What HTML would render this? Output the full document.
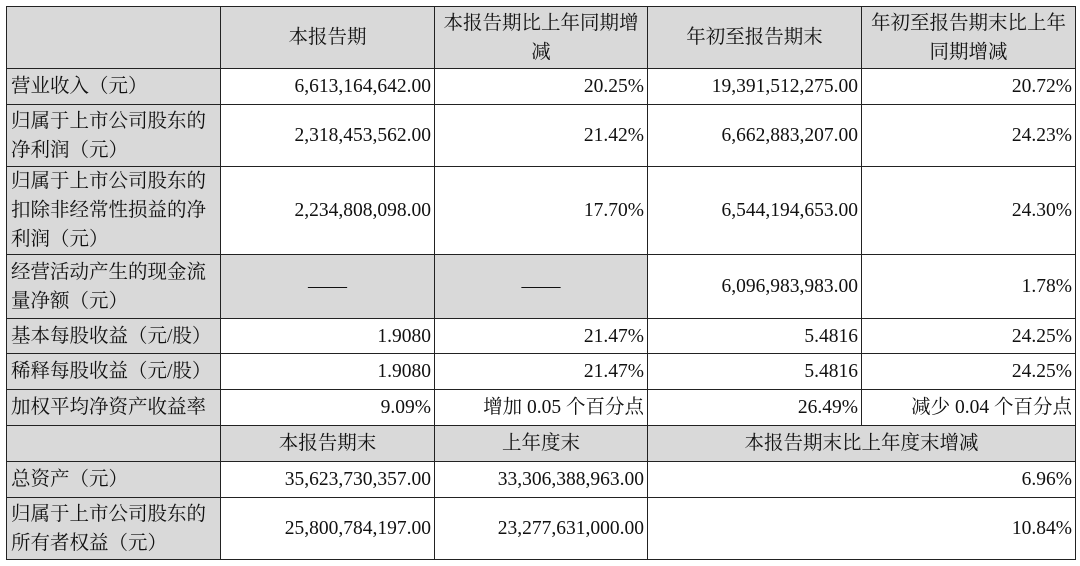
<!DOCTYPE html>
<html><head><meta charset="utf-8"><style>
body{margin:0;width:1080px;height:566px;background:#fff;position:relative;overflow:hidden;font-family:"Liberation Serif","Noto Serif CJK SC",serif;color:#111;}
.c{position:absolute;box-sizing:border-box;border:1px solid #222;display:flex;align-items:center;font-size:19.5px;line-height:29px;}
.g{background:#d9d9d9;}
.l{justify-content:flex-start;padding-left:4px;}
.r{justify-content:flex-end;padding-right:3px;text-align:right;}
.m{justify-content:center;text-align:center;}
.c1{left:6px;width:215px}.c2{left:220px;width:215px}.c3{left:434px;width:214px}.c4{left:647px;width:215px}.c5{left:861px;width:215px}
</style></head><body>
<!-- header -->
<div class="c g c1" style="top:6px;height:63px"></div>
<div class="c g m c2" style="top:6px;height:63px">本报告期</div>
<div class="c g m c3" style="top:6px;height:63px">本报告期比上年同期增<br>减</div>
<div class="c g m c4" style="top:6px;height:63px">年初至报告期末</div>
<div class="c g m c5" style="top:6px;height:63px">年初至报告期末比上年<br>同期增减</div>
<!-- r1 -->
<div class="c g l c1" style="top:68px;height:37px">营业收入（元）</div>
<div class="c r c2" style="top:68px;height:37px">6,613,164,642.00</div>
<div class="c r c3" style="top:68px;height:37px">20.25%</div>
<div class="c r c4" style="top:68px;height:37px">19,391,512,275.00</div>
<div class="c r c5" style="top:68px;height:37px">20.72%</div>
<!-- r2 -->
<div class="c g l c1" style="top:104px;height:63px">归属于上市公司股东的<br>净利润（元）</div>
<div class="c r c2" style="top:104px;height:63px">2,318,453,562.00</div>
<div class="c r c3" style="top:104px;height:63px">21.42%</div>
<div class="c r c4" style="top:104px;height:63px">6,662,883,207.00</div>
<div class="c r c5" style="top:104px;height:63px">24.23%</div>
<!-- r3 -->
<div class="c g l c1" style="top:166px;height:89px">归属于上市公司股东的<br>扣除非经常性损益的净<br>利润（元）</div>
<div class="c r c2" style="top:166px;height:89px">2,234,808,098.00</div>
<div class="c r c3" style="top:166px;height:89px">17.70%</div>
<div class="c r c4" style="top:166px;height:89px">6,544,194,653.00</div>
<div class="c r c5" style="top:166px;height:89px">24.30%</div>
<!-- r4 -->
<div class="c g l c1" style="top:254px;height:65px">经营活动产生的现金流<br>量净额（元）</div>
<div class="c g m c2" style="top:254px;height:65px">——</div>
<div class="c g m c3" style="top:254px;height:65px">——</div>
<div class="c r c4" style="top:254px;height:65px">6,096,983,983.00</div>
<div class="c r c5" style="top:254px;height:65px">1.78%</div>
<!-- r5 -->
<div class="c g l c1" style="top:318px;height:36px">基本每股收益（元/股）</div>
<div class="c r c2" style="top:318px;height:36px">1.9080</div>
<div class="c r c3" style="top:318px;height:36px">21.47%</div>
<div class="c r c4" style="top:318px;height:36px">5.4816</div>
<div class="c r c5" style="top:318px;height:36px">24.25%</div>
<!-- r6 -->
<div class="c g l c1" style="top:353px;height:37px">稀释每股收益（元/股）</div>
<div class="c r c2" style="top:353px;height:37px">1.9080</div>
<div class="c r c3" style="top:353px;height:37px">21.47%</div>
<div class="c r c4" style="top:353px;height:37px">5.4816</div>
<div class="c r c5" style="top:353px;height:37px">24.25%</div>
<!-- r7 -->
<div class="c g l c1" style="top:389px;height:37px">加权平均净资产收益率</div>
<div class="c r c2" style="top:389px;height:37px">9.09%</div>
<div class="c r c3" style="top:389px;height:37px">增加 0.05 个百分点</div>
<div class="c r c4" style="top:389px;height:37px">26.49%</div>
<div class="c r c5" style="top:389px;height:37px">减少 0.04 个百分点</div>
<!-- header2 -->
<div class="c g c1" style="top:425px;height:37px"></div>
<div class="c g m c2" style="top:425px;height:37px">本报告期末</div>
<div class="c g m c3" style="top:425px;height:37px">上年度末</div>
<div class="c g m" style="left:647px;width:429px;top:425px;height:37px">本报告期末比上年度末增减</div>
<!-- r9 -->
<div class="c g l c1" style="top:461px;height:37px">总资产（元）</div>
<div class="c r c2" style="top:461px;height:37px">35,623,730,357.00</div>
<div class="c r c3" style="top:461px;height:37px">33,306,388,963.00</div>
<div class="c r" style="left:647px;width:429px;top:461px;height:37px">6.96%</div>
<!-- r10 -->
<div class="c g l c1" style="top:497px;height:63px">归属于上市公司股东的<br>所有者权益（元）</div>
<div class="c r c2" style="top:497px;height:63px">25,800,784,197.00</div>
<div class="c r c3" style="top:497px;height:63px">23,277,631,000.00</div>
<div class="c r" style="left:647px;width:429px;top:497px;height:63px">10.84%</div>
</body></html>
